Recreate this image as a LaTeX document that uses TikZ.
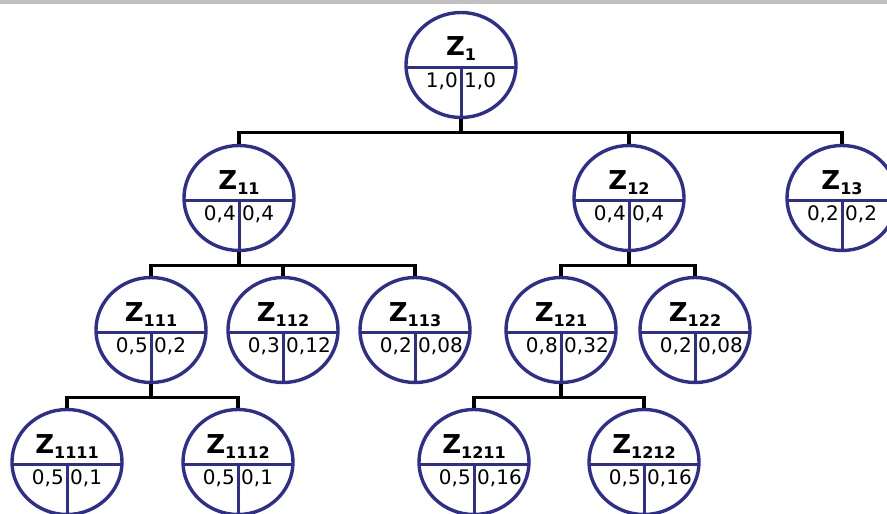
\documentclass[tikz,border=0pt]{standalone}
\usepackage{fontspec}
\setmainfont{DejaVu Sans}
\usetikzlibrary{shapes.geometric,positioning}
\definecolor{ringblue}{HTML}{2E2E8C}
\definecolor{topbar}{HTML}{C0C0C0}

% one probability cell: name, x, y, index, left value, right value
\newcommand{\zcell}[6]{%
  \node[cell] (#1) at (#2,#3) {};
  \node[zname] (#1-name) at ([yshift=9pt]#1.center)
    {Z\raisebox{-5pt}{\fontsize{16}{16}\selectfont\bfseries #4}};
  \node[lnum] (#1-left) at ([xshift=-3pt,yshift=-22pt]#1.center) {#5};
  \node[rnum] (#1-right) at ([xshift=3pt,yshift=-22pt]#1.center) {#6};
}

\begin{document}
\begin{tikzpicture}[
  x=1pt, y=-1pt,
  cell/.style={ellipse, draw=ringblue, line width=3.4pt, fill=white,
               minimum width=110pt, minimum height=105pt, inner sep=0pt,
               path picture={
                 \draw[ringblue, line width=3pt]
                   ([yshift=-2pt]path picture bounding box.west) --
                   ([yshift=-2pt]path picture bounding box.east);
                 \draw[ringblue, line width=3pt]
                   ([yshift=-2pt]path picture bounding box.center) --
                   (path picture bounding box.south);
               }},
  zname/.style={anchor=base, inner sep=0pt, font=\fontsize{26}{26}\selectfont\bfseries},
  lnum/.style={anchor=base east, inner sep=0pt, font=\fontsize{20}{20}\selectfont},
  rnum/.style={anchor=base west, inner sep=0pt, font=\fontsize{20}{20}\selectfont},
  link/.style={line width=3.2pt, black},
]
  \clip (0,0) rectangle (887,514);
  \fill[topbar] (0,0) rectangle (887,3.5);

  % levels
  \zcell{z1}{461}{65}{1}{1,0}{1,0}
  \zcell{z11}{239}{198}{11}{0,4}{0,4}
  \zcell{z12}{629}{198}{12}{0,4}{0,4}
  \zcell{z13}{842}{198}{13}{0,2}{0,2}
  \zcell{z111}{151}{330}{111}{0,5}{0,2}
  \zcell{z112}{283}{330}{112}{0,3}{0,12}
  \zcell{z113}{415}{330}{113}{0,2}{0,08}
  \zcell{z121}{561}{330}{121}{0,8}{0,32}
  \zcell{z122}{695}{330}{122}{0,2}{0,08}
  \zcell{z1111}{67}{462}{1111}{0,5}{0,1}
  \zcell{z1112}{238}{462}{1112}{0,5}{0,1}
  \zcell{z1211}{474}{462}{1211}{0,5}{0,16}
  \zcell{z1212}{644}{462}{1212}{0,5}{0,16}

  % tree links
  \coordinate (bus1) at ([yshift=-13pt]z1.south);
  \draw[link] (z1.south) -- (bus1);
  \draw[link] (z11.north) |- (bus1) -| (z13.north);
  \draw[link] (z12.north) -- (z12.north |- bus1);

  \coordinate (bus11) at ([yshift=-13pt]z11.south);
  \draw[link] (z11.south) -- (bus11);
  \draw[link] (z111.north) |- (bus11) -| (z113.north);
  \draw[link] (z112.north) -- (z112.north |- bus11);

  \coordinate (bus12) at ([yshift=-13pt]z12.south);
  \draw[link] (z12.south) -- (bus12);
  \draw[link] (z121.north) |- (bus12) -| (z122.north);

  \coordinate (bus111) at ([yshift=-13pt]z111.south);
  \draw[link] (z111.south) -- (bus111);
  \draw[link] (z1111.north) |- (bus111) -| (z1112.north);

  \coordinate (bus121) at ([yshift=-13pt]z121.south);
  \draw[link] (z121.south) -- (bus121);
  \draw[link] (z1211.north) |- (bus121) -| (z1212.north);
\end{tikzpicture}
\end{document}
